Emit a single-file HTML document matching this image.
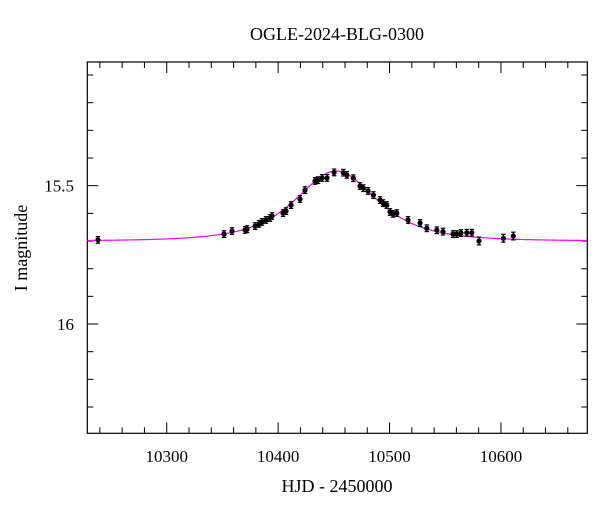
<!DOCTYPE html>
<html><head><meta charset="utf-8"><style>
html,body{margin:0;padding:0;background:#fff;}
svg{display:block;font-family:"Liberation Serif",serif;}
</style></head><body>
<svg id="chart" width="600" height="512" viewBox="0 0 600 512" xmlns="http://www.w3.org/2000/svg"></svg>
<script>
const hjd = [10238.3,10351.4,10358.6,10370.3,10372.1,10379.3,10382.9,10385.5,10389.1,10392.7,10394.5,10404.4,10407.1,10411.6,10419.6,10424.1,10433.1,10435.8,10439.4,10443.9,10450.2,10458.5,10461.6,10467.5,10473.5,10476.5,10480.7,10485.5,10491.5,10494.2,10497.5,10500.4,10503.1,10506.5,10516.6,10527.4,10533.4,10542.4,10548.0,10557.0,10560.3,10564.2,10569.3,10573.8,10580.3,10602.2,10611.1];
const mag = [15.696,15.675,15.664,15.660,15.657,15.646,15.638,15.631,15.624,15.617,15.610,15.599,15.592,15.570,15.548,15.516,15.483,15.480,15.472,15.472,15.452,15.453,15.461,15.473,15.501,15.509,15.519,15.534,15.552,15.563,15.570,15.595,15.602,15.599,15.624,15.635,15.654,15.661,15.666,15.675,15.675,15.671,15.670,15.670,15.700,15.690,15.682];
const magErr = [0.012,0.012,0.012,0.012,0.012,0.012,0.012,0.012,0.012,0.012,0.012,0.012,0.012,0.012,0.012,0.012,0.012,0.012,0.012,0.012,0.012,0.012,0.012,0.012,0.012,0.012,0.012,0.012,0.012,0.012,0.012,0.012,0.012,0.012,0.012,0.012,0.012,0.012,0.012,0.012,0.012,0.012,0.012,0.012,0.014,0.014,0.014];
const modelT0 = 10452, modelTE = 41, modelU0 = 1.13, modelBase = 15.70;
const xTicks = [10300,10400,10500,10600];
const yTicks = [15.5,16];
const X0=87.3,X1=587.3,Y0=62,Y1=433.3;
const tMin=10228.7,tMax=10677.5,mMin=15.053,mMax=16.395;
const sx=t=>X0+(t-tMin)/(tMax-tMin)*(X1-X0);
const sy=m=>Y0+(m-mMin)/(mMax-mMin)*(Y1-Y0);
const svg=document.getElementById('chart');
const NS='http://www.w3.org/2000/svg';
function mk(tag,attrs,parent){const e=document.createElementNS(NS,tag);for(const k in attrs)e.setAttribute(k,attrs[k]);(parent||svg).appendChild(e);return e;}
const frame=mk('rect',{x:X0,y:Y0,width:X1-X0,height:Y1-Y0,fill:'none',stroke:'#000','stroke-width':1.2});


const tg=mk('g',{stroke:'#000','stroke-width':1});


for(let t=10240;t<tMax;t+=20){const x=sx(t);const L=(t%100===0)?11:6;
 mk('line',{x1:x,x2:x,y1:Y1,y2:Y1-L},tg);mk('line',{x1:x,x2:x,y1:Y0,y2:Y0+L},tg);}
for(let k=151;k<=163;k++){const m=k/10;if(m<mMin||m>mMax)continue;const y=sy(m);const L=(k%5===0)?11:6;
 mk('line',{x1:X0,x2:X0+L,y1:y,y2:y},tg);mk('line',{x1:X1,x2:X1-L,y1:y,y2:y},tg);}
xTicks.forEach(t=>{const e=mk('text',{x:sx(t),y:462,'text-anchor':'middle','font-size':17});e.textContent=t;
 });
yTicks.forEach(m=>{const e=mk('text',{x:74,y:sy(m)+6,'text-anchor':'end','font-size':17});e.textContent=m;
 });
const tt=mk('text',{x:337,y:40,'text-anchor':'middle','font-size':18});tt.textContent='OGLE-2024-BLG-0300';

const xt=mk('text',{x:337,y:492,'text-anchor':'middle','font-size':18});xt.textContent='HJD - 2450000';

const yt=mk('text',{x:0,y:0,'text-anchor':'middle','font-size':18,transform:'translate(27,248) rotate(-90)'});yt.textContent='I magnitude';

let d='';
for(let px=X0;px<=X1;px+=1){const t=tMin+(px-X0)/(X1-X0)*(tMax-tMin);const tau=(t-modelT0)/modelTE;const u=Math.sqrt(tau*tau+modelU0*modelU0);
 const A=(u*u+2)/(u*Math.sqrt(u*u+4));const m=modelBase-2.5*Math.log10(A);d+=(d?'L':'M')+px.toFixed(1)+','+sy(m).toFixed(2);}
const model=mk('path',{d:d,fill:'none',stroke:'#ff00ff','stroke-width':1.2});

const dg=mk('g',{});

hjd.forEach((t,i)=>{const x=sx(t),y=sy(mag[i]),y1=sy(mag[i]-magErr[i]),y2=sy(mag[i]+magErr[i]);
 const g=mk('g',{stroke:'#000','stroke-width':1.2},dg);
 
 mk('line',{x1:x,x2:x,y1:y1,y2:y2},g);mk('line',{x1:x-2.2,x2:x+2.2,y1:y1,y2:y1},g);mk('line',{x1:x-2.2,x2:x+2.2,y1:y2,y2:y2},g);
 mk('circle',{cx:x,cy:y,r:2.6,fill:'#000',stroke:'none'},g);});
</script>
</body></html>
